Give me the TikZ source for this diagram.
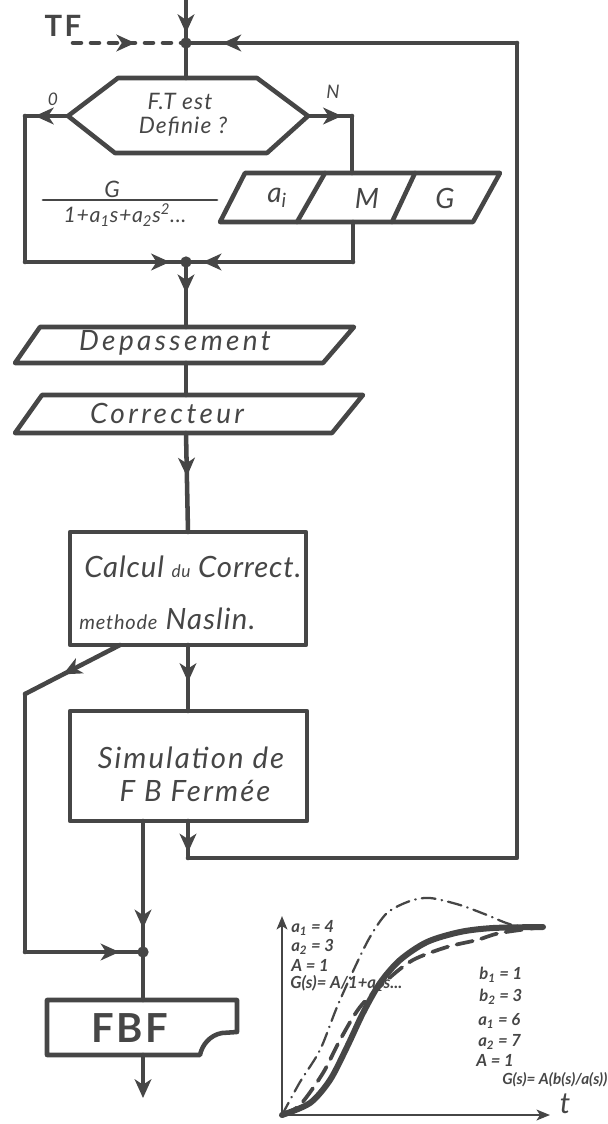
\documentclass[tikz,border=0pt]{standalone}
\usepackage{fontspec}
\newfontfamily\hand{Lato}
\usetikzlibrary{arrows.meta,decorations.markings}

\definecolor{ink}{RGB}{70,70,70}

\tikzset{every picture/.style={line width=3.4pt}}
\tikzset{
	midarrow/.style={postaction={decorate},decoration={markings,mark=at position #1 with {\arrow{>}}}},
	txt/.style={font=\hand\itshape\fontsize{#1}{#1}\selectfont,inner sep=0pt},
	printed/.style={font=\hand\bfseries\fontsize{#1}{#1}\selectfont,inner sep=0pt},
	glab/.style={font=\hand\itshape\bfseries\fontsize{12.5}{12.5}\selectfont,inner sep=0pt,anchor=west},
	junc/.style={circle,fill=ink,inner sep=0pt,minimum size=8.5pt},
}

\begin{document}
\begin{tikzpicture}[x=0.75pt,y=0.75pt,yscale=-1,xscale=1,color=ink,line cap=round,line join=round,>={Stealth[length=14pt,width=12.5pt,inset=4pt]}]
	\useasboundingbox (0,0) rectangle (607,1124);

	% points of the flow
	\coordinate (in) at (186,0);
	\coordinate (jtop) at (186,43);
	\coordinate (tfend) at (73,43);
	\coordinate (hexT) at (186,78);
	\coordinate (hexL) at (68,116);
	\coordinate (hexR) at (308,116);
	\coordinate (c0a) at (25,116);
	\coordinate (c0b) at (25,262);
	\coordinate (cNa) at (352,116);
	\coordinate (ioT) at (352,173);
	\coordinate (ioB) at (353,222);
	\coordinate (cNb) at (353,262);
	\coordinate (j2) at (186,262);
	\coordinate (depT) at (186,327);
	\coordinate (depB) at (186,363);
	\coordinate (corT) at (186,395);
	\coordinate (corB) at (186,433);
	\coordinate (calcT) at (188,532);
	\coordinate (calcB) at (188,645);
	\coordinate (calcD) at (120,645);
	\coordinate (cDa) at (25,694);
	\coordinate (cDb) at (25,952);
	\coordinate (simuT) at (188,711);
	\coordinate (simuL) at (143,821);
	\coordinate (simuR) at (188,821);
	\coordinate (j3) at (143,952);
	\coordinate (fbfT) at (143,1000);
	\coordinate (fbfB) at (143,1055);
	\coordinate (out) at (143,1098);
	\coordinate (cRa) at (188,858);
	\coordinate (cRb) at (517,858);
	\coordinate (cRc) at (517,43);

	%Shape: Hexagon
	\draw (118,78) -- (257,78) -- (308,116) -- (267,153) -- (115,153) -- (68,116) -- cycle;
	%Shape: Parallelogram
	\draw (245,173) -- (500,173) -- (473,222) -- (220,222) -- cycle;
	\draw (325,173) -- (297,222);
	\draw (415,173) -- (392,222);
	%Shape: Parallelogram
	\draw (40,327) -- (354,327) -- (323,363) -- (15,363) -- cycle;
	%Shape: Parallelogram
	\draw (42,395) -- (363,395) -- (332,433) -- (15,433) -- cycle;
	%Shape: Rectangle
	\draw (70,532) -- (306,532) -- (306,645) -- (70,645) -- cycle;
	%Shape: Rectangle
	\draw (70,711) -- (307,711) -- (307,821) -- (70,821) -- cycle;
	%Shape: Document
	\draw (47,1000) -- (237,1000) -- (237,1032) -- (222,1033) .. controls (210,1035) and (202,1045) .. (200,1055) -- (47,1055) -- cycle;
	%Straight Lines: fraction bar
	\draw[line width=2.2pt] (43,200) -- (217,200);

	% connectors
	\draw[midarrow=0.77] (in) -- (jtop);
	\draw[dash pattern=on 6pt off 7.5pt,midarrow=0.55] (tfend) -- (jtop);
	\draw (jtop) -- (hexT);
	\draw[midarrow=0.77] (hexL) -- (c0a);
	\draw (c0a) -- (c0b);
	\draw[midarrow=0.9] (c0b) -- (j2);
	\draw[midarrow=0.77] (hexR) -- (cNa);
	\draw (cNa) -- (ioT);
	\draw (ioB) -- (cNb);
	\draw[midarrow=0.9] (cNb) -- (j2);
	\draw[midarrow=0.48] (j2) -- (depT);
	\draw (depB) -- (corT);
	\draw[midarrow=0.44] (corB) -- (calcT);
	\draw[midarrow=0.56] (calcB) -- (simuT);
	\draw[midarrow=0.6] (calcD) -- (cDa);
	\draw (cDa) -- (cDb);
	\draw[midarrow=0.8] (cDb) -- (j3);
	\draw[midarrow=0.82] (simuL) -- (j3);
	\draw (j3) -- (fbfT);
	\draw[->] (fbfB) -- (out);
	\draw[midarrow=0.85] (simuR) -- (cRa);
	\draw (cRa) -- (cRb) -- (cRc);
	\draw[midarrow=0.89] (cRc) -- (jtop);

	\node[junc] (djtop) at (jtop) {};
	\node[junc] (dj2) at (j2) {};
	\node[junc] (dj3) at (j3) {};

	% Text Node
	\draw (63,26) node[printed=22] (tf) {\addfontfeature{LetterSpace=8}TF};
	% Text Node
	\draw (53,99) node[txt=13] (lab0) {0};
	% Text Node
	\draw (333,92) node[txt=14] (labN) {N};
	% Text Node
	\draw (180,101) node[txt=17] (ft1) {\addfontfeature{LetterSpace=5}F.T est};
	% Text Node
	\draw (183,127) node[txt=17] (ft2) {\addfontfeature{LetterSpace=5}Definie ?};
	% Text Node
	\draw (112,189) node[txt=17] (num) {G};
	% Text Node
	\draw (125,215) node[txt=16] (den) {\addfontfeature{LetterSpace=3}1+a\textsubscript{1}s+a\textsubscript{2}s\textsuperscript{2}...};
	% Text Node
	\draw (277,198) node[txt=21] (ai) {a\textsubscript{i}};
	% Text Node
	\draw (367,198) node[txt=21] (mm) {M};
	% Text Node
	\draw (445,198) node[txt=21] (gg) {G};
	% Text Node
	\draw (175,343) node[txt=21] (dep) {\addfontfeature{LetterSpace=12}Depassement};
	% Text Node
	\draw (167,413) node[txt=21] (cor) {\addfontfeature{LetterSpace=12}Correcteur};
	% Text Node
	\draw (82,567) node[txt=22,anchor=west] (calc1) {\addfontfeature{LetterSpace=3}Calcul {\fontsize{13}{13}\selectfont du} Correct.};
	% Text Node
	\draw (77,619) node[txt=22,anchor=west] (calc2) {\addfontfeature{LetterSpace=4}{\fontsize{15}{15}\selectfont methode} Naslin.};
	% Text Node
	\draw (191,758) node[txt=22] (simu1) {\addfontfeature{LetterSpace=7}Simulation de};
	% Text Node
	\draw (195,791) node[txt=22] (simu2) {\addfontfeature{LetterSpace=7}F B Fermée};
	% Text Node
	\draw (130,1028) node[printed=30] (fbf) {\addfontfeature{LetterSpace=6}FBF};

	% response curves
	\coordinate (gO) at (282,1115);
	\coordinate (gY) at (282,916);
	\coordinate (gX) at (550,1115);
	\draw[-{Stealth[length=10pt,width=8pt,inset=2.5pt]},line width=2.2pt] (gO) -- (gY);
	\draw[-{Stealth[length=10pt,width=8pt,inset=2.5pt]},line width=2.2pt] (gO) -- (gX);
	\draw[line width=1.7pt,dash pattern=on 10.4pt off 4.6pt on 0.4pt off 4.6pt] plot[smooth] coordinates {(282,1115) (300,1082) (320,1050) (337,1007) (355,967) (370,937) (387,913) (410,901) (430,898) (460,905) (487,915) (513,925) (545,927)};
	\draw[line width=4.5pt] plot[smooth] coordinates {(282,1115) (310,1103) (330,1080) (347,1047) (363,1013) (380,983) (400,960) (427,942) (460,932) (493,928) (543,927)};
	\draw[line width=2.8pt,dash pattern=on 12.4pt off 6.6pt] plot[smooth] coordinates {(282,1115) (300,1105) (323,1073) (340,1040) (360,1007) (387,980) (413,960) (447,947) (477,940) (500,933) (543,927)};

	% Text Node
	\draw (565,1104) node[txt=22] (tlab) {t};
	% Text Node
	\draw (289,928) node[glab] (ga1) {a\textsubscript{1} = 4};
	\draw (289,947) node[glab] (ga2) {a\textsubscript{2} = 3};
	\draw (289,965) node[glab] (gA) {A = 1};
	\draw (288,983) node[glab] (gG) {G(s)= A/1+a\textsubscript{1}s...};
	% Text Node
	\draw (477,975) node[glab] (gb1) {b\textsubscript{1} = 1};
	\draw (477,997) node[glab] (gb2) {b\textsubscript{2} = 3};
	\draw (476,1021) node[glab] (ga1b) {a\textsubscript{1} = 6};
	\draw (476,1042) node[glab] (ga2b) {a\textsubscript{2} = 7};
	\draw (474,1060) node[glab] (gAb) {A = 1};
	\draw (500,1080) node[glab,font=\hand\itshape\bfseries\fontsize{11.5}{11.5}\selectfont] (gGb) {G(s)= A(b(s)/a(s))};

\end{tikzpicture}
\end{document}
